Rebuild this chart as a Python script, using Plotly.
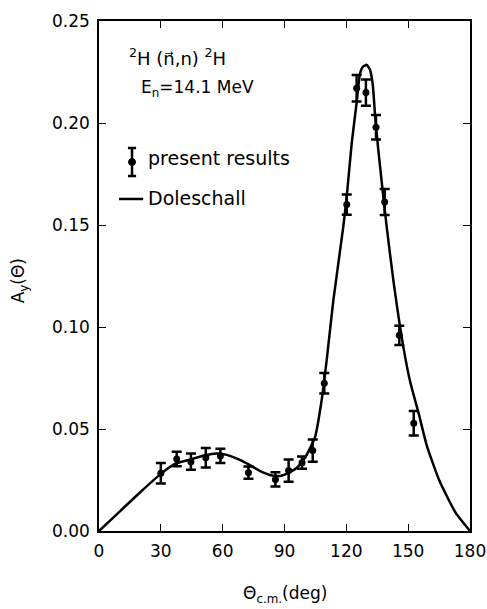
import plotly.graph_objects as go

# Measured data (present results)
theta = [30.0, 37.7, 44.6, 51.8, 58.9, 72.5, 85.6, 92.0, 98.5, 103.7,
         109.3, 120.2, 125.0, 129.5, 134.4, 138.6, 145.7, 152.7]
ay = [0.0283, 0.0353, 0.0340, 0.0359, 0.0368, 0.0286, 0.0253, 0.0296, 0.0335, 0.0394,
      0.0724, 0.1600, 0.2170, 0.2149, 0.1979, 0.1613, 0.0959, 0.0528]
ay_err = [0.0050, 0.0035, 0.0040, 0.0048, 0.0035, 0.0030, 0.0035, 0.0055, 0.0030, 0.0055,
          0.0050, 0.0050, 0.0065, 0.0064, 0.0060, 0.0064, 0.0047, 0.0060]

# Doleschall calculation
theo_theta = [0, 10, 20, 30, 37, 44, 51, 57, 62, 67, 72, 78, 84, 88, 92, 96, 100, 104.8,
              108, 110.5, 113.7, 118.5, 120.2, 122.6, 125, 126.6, 128, 129.9, 131.5,
              132.8, 134, 135.5, 137.5, 139.6, 142.8, 147.7, 151, 155, 159, 165, 173, 180]
theo_ay = [0, 0.0095, 0.019, 0.028, 0.033, 0.035, 0.037, 0.038, 0.0373, 0.0355, 0.033,
           0.0295, 0.0272, 0.0270, 0.0285, 0.031, 0.036, 0.046,
           0.064, 0.084, 0.113, 0.149, 0.164, 0.190, 0.210, 0.224, 0.2275, 0.2285, 0.226,
           0.219, 0.203, 0.187, 0.168, 0.149, 0.123, 0.090, 0.073, 0.058, 0.042, 0.025, 0.009, 0]

x_ticks = [0, 30, 60, 90, 120, 150, 180]
y_ticks = [0.00, 0.05, 0.10, 0.15, 0.20, 0.25]

legend_labels = ["present results", "Doleschall"]
reaction_label = "<sup>2</sup>H (n\u20d7,n) <sup>2</sup>H"
energy_label = "E<sub>n</sub>=14.1 MeV"
x_title = "\u0398<sub>c.m.</sub>(deg)"
y_title = "A<sub>y</sub>(\u0398)"

FONT = "DejaVu Sans"

fig = go.Figure()
fig.add_trace(go.Scatter(
    x=theo_theta, y=theo_ay, mode="lines", name=legend_labels[1],
    line=dict(color="black", width=2.5, shape="spline", smoothing=0.5),
    showlegend=False, hoverinfo="skip"))
fig.add_trace(go.Scatter(
    x=theta, y=ay, mode="markers", name=legend_labels[0],
    marker=dict(color="black", size=7, symbol="circle"),
    error_y=dict(type="data", array=ay_err, visible=True, color="black",
                 thickness=2.5, width=5),
    showlegend=False))

axis_common = dict(showline=True, linecolor="black", linewidth=1.5, mirror="ticks",
                   ticks="inside", ticklen=7, tickwidth=1.2, tickcolor="black",
                   showgrid=False, zeroline=False, ticklabelstandoff=4, automargin=False,
                   tickfont=dict(family=FONT, size=17, color="black"))

# hand-drawn legend key (paper coordinates)
lg_x, lg_top, lg_bot, lg_dot = 0.089, 0.751, 0.696, 0.7235
cap = 0.011
shapes = [
    dict(type="line", xref="paper", yref="paper", x0=lg_x, x1=lg_x, y0=lg_bot, y1=lg_top,
         line=dict(color="black", width=2.5)),
    dict(type="line", xref="paper", yref="paper", x0=lg_x - cap, x1=lg_x + cap, y0=lg_top, y1=lg_top,
         line=dict(color="black", width=2.5)),
    dict(type="line", xref="paper", yref="paper", x0=lg_x - cap, x1=lg_x + cap, y0=lg_bot, y1=lg_bot,
         line=dict(color="black", width=2.5)),
    dict(type="circle", xref="paper", yref="paper", x0=lg_x - 0.0094, x1=lg_x + 0.0094,
         y0=lg_dot - 0.0068, y1=lg_dot + 0.0068, fillcolor="black", line=dict(color="black", width=1)),
    dict(type="line", xref="paper", yref="paper", x0=0.054, x1=0.119, y0=0.651, y1=0.651,
         line=dict(color="black", width=2.5)),
]

fig.update_layout(
    width=487, height=609,
    margin=dict(l=99, r=17, t=21, b=78),
    paper_bgcolor="white", plot_bgcolor="white",
    font=dict(family=FONT, size=17, color="black"),
    xaxis=dict(range=[0, 180], tickvals=x_ticks, **axis_common),
    yaxis=dict(range=[0, 0.25], tickvals=y_ticks, tickformat=".2f", **axis_common),
    showlegend=False,
    shapes=shapes,
    annotations=[
        dict(text=reaction_label, x=0.075, y=0.93,
             xref="paper", yref="paper", xanchor="left", yanchor="middle",
             showarrow=False, font=dict(family=FONT, size=18)),
        dict(text=energy_label, x=0.108, y=0.868,
             xref="paper", yref="paper", xanchor="left", yanchor="middle",
             showarrow=False, font=dict(family=FONT, size=17)),
        dict(text=legend_labels[0], x=0.128, y=0.731,
             xref="paper", yref="paper", xanchor="left", yanchor="middle",
             showarrow=False, font=dict(family=FONT, size=19)),
        dict(text=legend_labels[1], x=0.128, y=0.653,
             xref="paper", yref="paper", xanchor="left", yanchor="middle",
             showarrow=False, font=dict(family=FONT, size=19)),
        dict(text=y_title, x=-0.215, y=0.49, textangle=-90,
             xref="paper", yref="paper", xanchor="center", yanchor="middle",
             showarrow=False, font=dict(family=FONT, size=17)),
        dict(text=x_title, x=0.5, y=-0.125,
             xref="paper", yref="paper", xanchor="center", yanchor="middle",
             showarrow=False, font=dict(family=FONT, size=17)),
    ],
)

fig.write_html(
    "out.html",
    config={"displayModeBar": False},
    post_script="document.body.style.margin='0';document.body.style.overflow='hidden';",
)
